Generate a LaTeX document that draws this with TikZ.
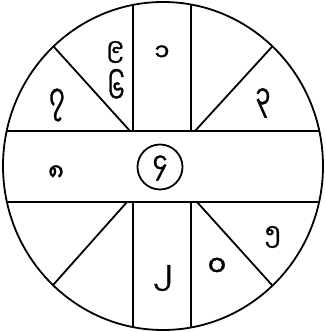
\documentclass[tikz,border=0pt]{standalone}
\usepackage{fontspec}
\newfontfamily\mya[Script=Myanmar,FakeBold=1.2]{Noto Sans Myanmar UI}
\tikzset{
  ln/.style={line width=1.8pt, black},
  dg/.style={font=\mya\fontsize{24}{24}\selectfont, inner sep=0pt, anchor=center}
}
\begin{document}
\begin{tikzpicture}[x=1pt,y=-1pt]
\useasboundingbox (0,0) rectangle (325,332);
\coordinate (c) at (163,166);
% band corners
\coordinate (tl) at (130,131);
\coordinate (tr) at (195,131);
\coordinate (bl) at (127,202);
\coordinate (br) at (197,202);
\coordinate (etl) at (50,42.5);
\coordinate (etr) at (275,43.5);
\coordinate (ebl) at (50,288.5);
\coordinate (ebr) at (276,289.5);
\begin{scope}
  \clip (c) ellipse [x radius=160, y radius=164];
  \draw[ln] (0,131) -- (325,131);
  \draw[ln] (0,202) -- (325,202);
  \draw[ln] (133,0) -- (133,131);
  \draw[ln] (191,0) -- (191,131);
  \draw[ln] (133,202) -- (133,332);
  \draw[ln] (191,202) -- (191,332);
  \draw[ln] (tl) -- (etl);
  \draw[ln] (tr) -- (etr);
  \draw[ln] (bl) -- (ebl);
  \draw[ln] (br) -- (ebr);
\end{scope}
\draw[ln] (c) ellipse [x radius=160, y radius=164];
\node[draw, circle, line width=1.8pt, minimum size=45pt, inner sep=0pt] (ctr) at (160,167) {};
\node[dg, yscale=1.15] (d4) at (160,168) {၄};
\node[dg] (d9) at (115,52) {၉};
\node[dg, yscale=1.35] (d6) at (116,86) {၆};
\node[dg, yscale=1.5] (d7) at (57,105) {၇};
\node[dg] (d1) at (162,53) {၁};
\node[dg, yscale=1.35] (d3) at (263,103) {၃};
\node[dg] (d8) at (56,173) {၈};
\node[dg, scale=1.2] (d2) at (163,278) {၂};
\node[dg, scale=1.2] (d0) at (217,267) {၀};
\node[dg] (d5) at (273,237) {၅};
\end{tikzpicture}
\end{document}
